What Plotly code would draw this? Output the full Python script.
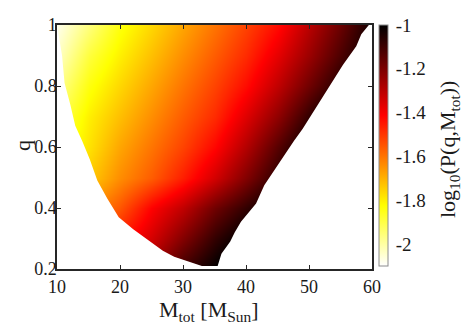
import plotly.graph_objects as go

# ---- data ----
M_tot = [10, 15, 20, 25, 30, 35, 40, 45, 50, 55, 60]
q_vals = [0.2, 0.3, 0.4, 0.5, 0.6, 0.7, 0.8, 0.9, 1.0]

# log10(P(q, M_tot)) on the (q, M_tot) grid, one list per q row
log10P_q020 = [-1.60, -1.45, -1.35, -1.25, -1.10, -1.00, -0.90, -0.80, -0.75, -0.70, -0.65]
log10P_q030 = [-1.75, -1.60, -1.45, -1.34, -1.21, -1.08, -0.98, -0.90, -0.82, -0.75, -0.70]
log10P_q040 = [-1.80, -1.65, -1.55, -1.41, -1.31, -1.18, -1.08, -0.98, -0.90, -0.82, -0.75]
log10P_q050 = [-1.85, -1.74, -1.64, -1.56, -1.46, -1.34, -1.21, -1.07, -0.95, -0.85, -0.75]
log10P_q060 = [-1.88, -1.78, -1.68, -1.60, -1.52, -1.42, -1.29, -1.14, -1.00, -0.90, -0.80]
log10P_q070 = [-1.92, -1.80, -1.72, -1.64, -1.56, -1.48, -1.36, -1.23, -1.08, -0.95, -0.85]
log10P_q080 = [-1.98, -1.84, -1.76, -1.68, -1.60, -1.52, -1.43, -1.31, -1.18, -1.05, -0.95]
log10P_q090 = [-2.04, -1.89, -1.80, -1.72, -1.64, -1.56, -1.48, -1.37, -1.25, -1.12, -1.00]
log10P_q100 = [-2.08, -1.96, -1.84, -1.76, -1.68, -1.60, -1.52, -1.43, -1.30, -1.17, -1.03]

# edges of the allowed (q, M_tot) region
q_left_edge = [0.21, 0.22, 0.24, 0.26, 0.29, 0.33, 0.37, 0.43, 0.49, 0.56, 0.62, 0.67, 0.74, 0.81, 0.90, 1.00]
M_left_edge = [33.0, 31.5, 28.6, 26.8, 24.7, 22.1, 19.8, 18.0, 16.4, 15.2, 14.0, 12.9, 12.1, 11.2, 10.8, 10.0]
q_right_edge = [0.21, 0.25, 0.29, 0.32, 0.355, 0.39, 0.415, 0.475, 0.557, 0.62, 0.66, 0.727, 0.80, 0.87, 0.93, 0.97, 1.00]
M_right_edge = [35.5, 36.1, 37.5, 38.2, 39.2, 40.6, 41.6, 42.9, 45.6, 47.6, 49.0, 51.1, 53.25, 55.4, 57.5, 58.3, 59.5]

x_ticks = [10, 20, 30, 40, 50, 60]
y_ticks = [0.2, 0.4, 0.6, 0.8, 1.0]
y_ticktext = ["0.2", "0.4", "0.6", "0.8", "1"]
cbar_tickvals = [-2, -1.8, -1.6, -1.4, -1.2, -1]
cbar_ticktext = ["-2", "-1.8", "-1.6", "-1.4", "-1.2", "-1"]
z_min, z_max = -2.1, -1.0

z = [log10P_q020, log10P_q030, log10P_q040, log10P_q050, log10P_q060,
     log10P_q070, log10P_q080, log10P_q090, log10P_q100]

# flipped MATLAB "hot" colormap
hot_r = [[0.0, "rgb(255,255,255)"], [0.25, "rgb(255,255,0)"],
         [0.625, "rgb(255,0,0)"], [1.0, "rgb(0,0,0)"]]

FONT = "Liberation Serif"
TXT = "#1a1a1a"
AX = "#262626"
TICK_SIZE = 18
TITLE_SIZE = 22

# plot area in pixels: x 57..372, y 25..269
L, W, T, H = 57, 315, 25, 244


def px_x(px):
    return (px - L) / W


def px_y(py):
    return (T + H - py) / H


fig = go.Figure()
fig.add_trace(go.Heatmap(
    x=M_tot, y=q_vals, z=z, zmin=z_min, zmax=z_max, zsmooth="best",
    colorscale=hot_r, hoverinfo="skip",
    colorbar=dict(
        x=px_x(379), xanchor="left", xpad=0,
        y=1, yanchor="top", ypad=0, lenmode="pixels", len=241,
        thickness=9, outlinecolor="#8c8c8c", outlinewidth=1,
        tickvals=cbar_tickvals, ticktext=cbar_ticktext,
        ticks="outside", ticklen=4, tickcolor="rgba(0,0,0,0)",
        tickfont=dict(family=FONT, size=19, color=TXT),
    ),
))

# white mask outside the allowed region (built from the edge lists)
mask_x = [9, 61, 61] + M_right_edge[::-1] + M_left_edge + [9]
mask_y = [0.19, 0.19, 1.01] + q_right_edge[::-1] + q_left_edge + [1.01]
fig.add_trace(go.Scatter(
    x=mask_x, y=mask_y, mode="lines", fill="toself", fillcolor="white",
    line=dict(width=0, color="white"), hoverinfo="skip", showlegend=False,
))

fig.update_layout(
    width=463, height=328,
    margin=dict(l=L, r=463 - L - W, t=T, b=328 - T - H),
    paper_bgcolor="white", plot_bgcolor="white",
    font=dict(family=FONT, size=TICK_SIZE, color=TXT),
    showlegend=False,
    xaxis=dict(
        range=[10, 60], tickvals=x_ticks, ticks="inside", ticklen=4,
        tickcolor=AX, tickwidth=1, showline=True, linecolor=AX, linewidth=1.5,
        mirror="ticks", showgrid=False, zeroline=False,
        ticklabelstandoff=1,
        tickfont=dict(family=FONT, size=TICK_SIZE, color=TXT),
    ),
    yaxis=dict(
        range=[0.2, 1.0], tickvals=y_ticks, ticktext=y_ticktext,
        ticks="inside", ticklen=4, tickcolor=AX, tickwidth=1,
        showline=True, linecolor=AX, linewidth=1.5, mirror="ticks",
        showgrid=False, zeroline=False,
        ticklabelstandoff=-5,
        tickfont=dict(family=FONT, size=TICK_SIZE, color=TXT),
    ),
    annotations=[
        dict(text="M<sub>tot</sub> [M<sub>Sun</sub>]",
             xref="paper", yref="paper", x=px_x(208), y=px_y(311),
             xanchor="center", yanchor="middle", showarrow=False,
             font=dict(family=FONT, size=TITLE_SIZE, color=TXT)),
        dict(text="q",
             xref="paper", yref="paper", x=px_x(22), y=px_y(146),
             xanchor="center", yanchor="middle", showarrow=False,
             textangle=-90,
             font=dict(family=FONT, size=TITLE_SIZE, color=TXT)),
        dict(text="log<sub>10</sub>(P(q,M<sub>tot</sub>))", textangle=-90,
             xref="paper", yref="paper", x=px_x(449), y=px_y(150),
             xanchor="center", yanchor="middle", showarrow=False,
             font=dict(family=FONT, size=TITLE_SIZE, color=TXT)),
    ],
)

fig.write_html(
    "out.html",
    config={"displayModeBar": False},
    post_script="document.body.style.margin='0';document.body.style.padding='0';",
)
